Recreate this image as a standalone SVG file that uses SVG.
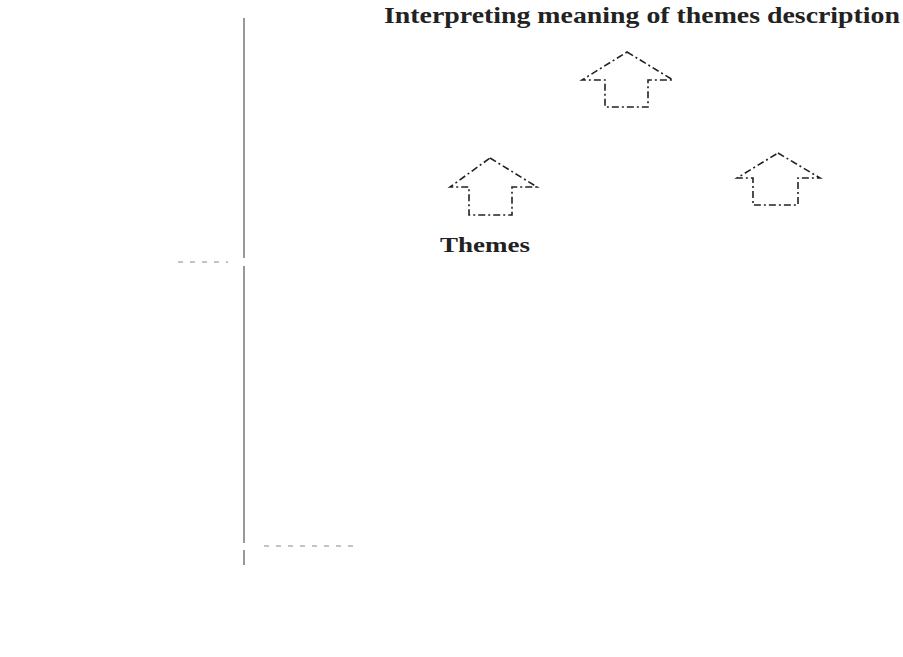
<svg xmlns="http://www.w3.org/2000/svg" width="903" height="657" viewBox="0 0 903 657">
<style>
.bg{fill:#ffffff}
.arrow{fill:none;stroke:#222;stroke-width:1.6;stroke-dasharray:7 3 2 3;stroke-linejoin:miter}
.rule{stroke:#777;stroke-width:1.5;fill:none}
.dash{stroke:#888;stroke-width:1.2;stroke-dasharray:5 7;fill:none}
.title{font-family:"Liberation Serif","DejaVu Serif",serif;font-weight:bold;font-size:23px;fill:#222}
.label{font-family:"Liberation Serif","DejaVu Serif",serif;font-weight:bold;font-size:20px;fill:#222}
</style>
<rect class="bg" x="0" y="0" width="903" height="657"/>
<g id="connectors">
<line class="rule" x1="244" y1="18" x2="244" y2="258"/>
<line class="rule" x1="244" y1="266" x2="244" y2="543"/>
<line class="rule" x1="244" y1="550" x2="244" y2="565"/>
<line class="dash" x1="178" y1="262" x2="228" y2="262"/>
<line class="dash" x1="264" y1="546" x2="354" y2="546"/>
</g>
<g id="title">
<text class="title" x="384" y="23" textLength="516" lengthAdjust="spacingAndGlyphs">Interpreting meaning of themes description</text>
</g>
<g id="arrow-top">
<polygon class="arrow" points="627,52 673,80 648,80 648,107 605,107 605,80 582,80"/>
</g>
<g id="arrow-left">
<polygon class="arrow" points="490,158 537,187 512,187 512,215 469,215 469,187 450,187"/>
</g>
<g id="arrow-right">
<polygon class="arrow" points="778,153 820,178 798,178 798,205 753,205 753,178 737,178"/>
</g>
<g id="themes">
<text class="label" x="440" y="252" textLength="90" lengthAdjust="spacingAndGlyphs">Themes</text>
</g>
</svg>
